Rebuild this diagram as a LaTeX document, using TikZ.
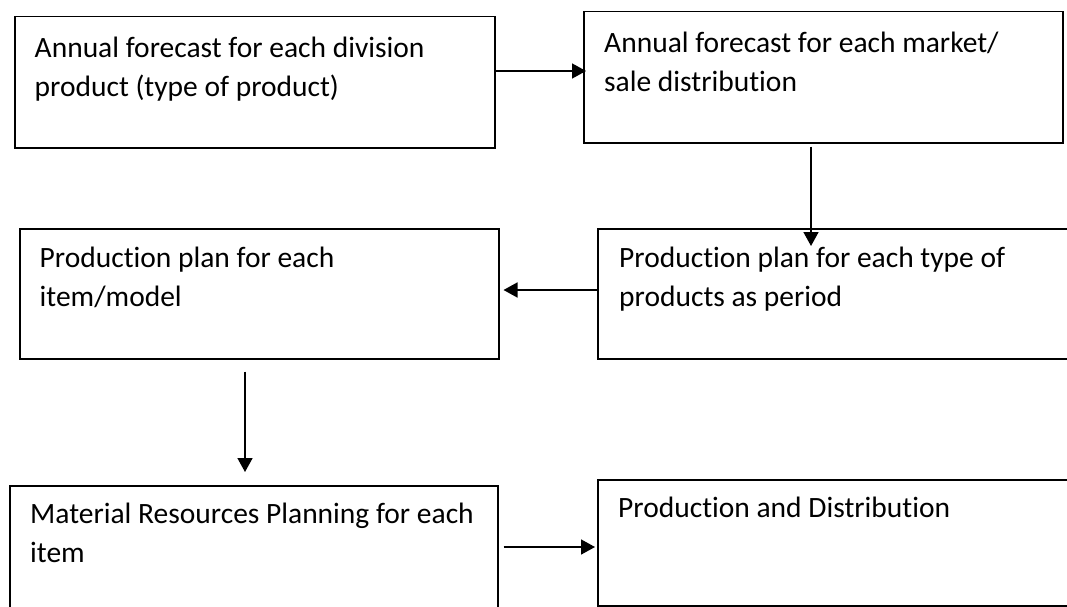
\documentclass[tikz,border=0pt]{standalone}
\usepackage{fontspec}
\setmainfont{Carlito}[Ligatures=NoCommon]
\usetikzlibrary{calc,arrows.meta}

\begin{document}
\begin{tikzpicture}[x=1pt,y=-1pt,
  stagebox/.style={draw, line width=1.5pt, inner sep=0pt, anchor=north west},
  lbl/.style={anchor=north west, inner sep=0pt, align=left,
              font=\fontsize{29.5}{39}\selectfont},
  flow/.style={line width=1.6pt, -{Triangle[length=14pt,width=15pt]}}]

  % page frame
  \useasboundingbox (0,0) rectangle (1067,607);
  \clip (0,0) rectangle (1067,607);

  % process boxes
  \node[stagebox, minimum width=480pt, minimum height=131pt] (b1) at (14,16)  {};
  \node[stagebox, minimum width=479pt, minimum height=131pt] (b2) at (583,11) {};
  \node[stagebox, minimum width=490pt, minimum height=130pt] (b3) at (597,228) {};
  \node[stagebox, minimum width=479pt, minimum height=130pt] (b4) at (19,228) {};
  \node[stagebox, minimum width=488pt, minimum height=150pt] (b5) at (9,485)  {};
  \node[stagebox, minimum width=490pt, minimum height=126pt] (b6) at (597,479) {};

  % box texts (first baseline about 39pt below the top edge)
  \node[lbl] (t1) at ($(b1.north west)+(20.5,13.7)$)
    {\strut Annual forecast for each division\\product (type of product)};
  \node[lbl] (t2) at ($(b2.north west)+(21,13.7)$)
    {\strut Annual forecast for each market/\\sale distribution};
  \node[lbl] (t3) at ($(b3.north west)+(22,12)$)
    {\strut Production plan for each type of\\products as period};
  \node[lbl] (t4) at ($(b4.north west)+(20.5,12)$)
    {\strut Production plan for each\\item/model};
  \node[lbl] (t5) at ($(b5.north west)+(21,11)$)
    {\strut Material Resources Planning for each\\item};
  \node[lbl] (t6) at ($(b6.north west)+(21,11)$)
    {\strut Production and Distribution};

  % connectors
  \coordinate (a1s) at ($(b1.north east)+(0,55)$);
  \draw[flow] (a1s) -- ($(b2.west |- a1s)+(3,0)$);

  \coordinate (a2s) at ($(b2.south west)+(228,3)$);
  \draw[flow] (a2s) -- ($(a2s |- b3.north)+(0,18)$);

  \coordinate (a3s) at ($(b3.north west)+(0,62)$);
  \draw[flow] (a3s) -- ($(b4.east |- a3s)+(4,0)$);

  \coordinate (a4s) at ($(b4.south west)+(226,12)$);
  \draw[flow] (a4s) -- ($(a4s |- b5.north)+(0,-13)$);

  \coordinate (a5s) at ($(b5.north east)+(5,62)$);
  \draw[flow] (a5s) -- ($(b6.west |- a5s)+(-2,0)$);
\end{tikzpicture}
\end{document}
